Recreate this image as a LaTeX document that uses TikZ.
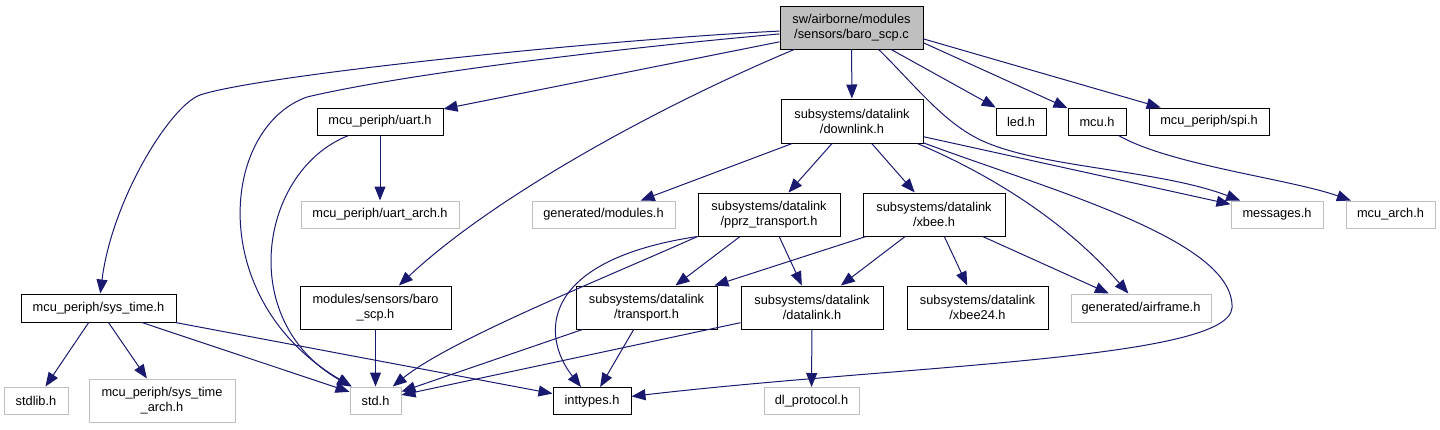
\documentclass[tikz,border=0pt]{standalone}
\usepackage{fontspec}
\setmainfont{Liberation Sans}
\usetikzlibrary{arrows.meta}
\definecolor{edgeblue}{HTML}{191970}
\definecolor{boxgray}{HTML}{BFBFBF}
\begin{document}
\begin{tikzpicture}[x=1pt,y=-1pt,
  box/.style={inner sep=0pt,align=center,font=\fontsize{12.8}{15}\selectfont,line width=1pt},
  doc/.style={box,draw=black},
  ext/.style={box,draw=boxgray},
  inc/.style={draw=edgeblue,line width=1pt,-{Triangle[length=14pt,width=11pt]}}]
\useasboundingbox(0,0)rectangle(1440,429);
% top file
\node[doc,fill=boxgray,minimum width=143pt,minimum height=43pt](root)at(851.5,27.5){sw/airborne/modules\\/sensors/baro\_scp.c};
% first level
\node[doc,minimum width=126pt,minimum height=27pt](uart)at(380,121.5){mcu\_periph/uart.h};
\node[doc,minimum width=142pt,minimum height=44pt](downlink)at(852,121){subsystems/datalink\\/downlink.h};
\node[doc,minimum width=50pt,minimum height=27pt](led)at(1021,121.5){led.h};
\node[doc,minimum width=58pt,minimum height=27pt](mcu)at(1097,121.5){mcu.h};
\node[doc,minimum width=120pt,minimum height=27pt](spi)at(1209,121.5){mcu\_periph/spi.h};
% second level
\node[ext,minimum width=158pt,minimum height=27pt](uartarch)at(380,214.5){mcu\_periph/uart\_arch.h};
\node[ext,minimum width=143pt,minimum height=27pt](genmod)at(603.5,214.5){generated/modules.h};
\node[doc,minimum width=142pt,minimum height=43pt](pprz)at(769,214.5){subsystems/datalink\\/pprz\_transport.h};
\node[doc,minimum width=142pt,minimum height=43pt](xbee)at(934,214.5){subsystems/datalink\\/xbee.h};
\node[ext,minimum width=92pt,minimum height=27pt](messages)at(1277,214.5){messages.h};
\node[ext,minimum width=89pt,minimum height=27pt](mcuarch)at(1390.5,214.5){mcu\_arch.h};
% third level
\node[doc,minimum width=155pt,minimum height=28pt](systime)at(98.5,308){mcu\_periph/sys\_time.h};
\node[doc,minimum width=151pt,minimum height=43pt](baroh)at(375.5,307.5){modules/sensors/baro\\\_scp.h};
\node[doc,minimum width=141pt,minimum height=43pt](transport)at(646.5,307.5){subsystems/datalink\\/transport.h};
\node[doc,minimum width=142pt,minimum height=43pt](datalink)at(812,307.5){subsystems/datalink\\/datalink.h};
\node[doc,minimum width=141pt,minimum height=43pt](xbeetf)at(977.5,307.5){subsystems/datalink\\/xbee24.h};
\node[ext,minimum width=140pt,minimum height=28pt](airframe)at(1141,308){generated/airframe.h};
% bottom level
\node[ext,minimum width=64pt,minimum height=27pt](stdlib)at(36,400.5){stdlib.h};
\node[ext,minimum width=146pt,minimum height=43pt](systimearch)at(162,400.5){mcu\_periph/sys\_time\\\_arch.h};
\node[ext,minimum width=51pt,minimum height=27pt](std)at(375.5,400.5){std.h};
\node[doc,minimum width=78pt,minimum height=27pt](inttypes)at(592,401){inttypes.h};
\node[ext,minimum width=95pt,minimum height=27pt](dlproto)at(811.5,401){dl\_protocol.h};
% includes of baro_scp.c
\draw[inc](root)..controls(600,40)and(260,75)..(200,95)..controls(170,106)and(112,200)..(systime);
\draw[inc](root)..controls(600,50)and(400,75)..(307,97)..controls(220,128)and(205,300)..(std);
\draw[inc](root)--(uart);
\draw[inc](root.201)..controls(650,110)and(490,200)..(baroh);
\draw[inc](root)--(downlink);
\draw[inc](root.-39)..controls(915,85)and(945,125)..(985,142)..controls(1045,168)and(1160,170)..(messages);
\draw[inc](root)--(led);
\draw[inc](root.-12)--(mcu);
\draw[inc](root.-9)--(spi);
% uart.h
\draw[inc](uart)--(uartarch);
\draw[inc](uart.204)..controls(260,170)and(235,320)..(std);
% downlink.h
\draw[inc](downlink)--(genmod);
\draw[inc](downlink)--(pprz);
\draw[inc](downlink)--(xbee);
\draw[inc](downlink)--(messages);
\draw[inc](downlink.-19)..controls(980,170)and(1060,215)..(airframe);
\draw[inc](downlink.-17)..controls(1050,190)and(1235,240)..(1232,308)..controls(1228,360)and(900,365)..(inttypes);
% mcu.h
\draw[inc](mcu.-33)..controls(1170,165)and(1290,179)..(mcuarch);
% pprz_transport.h
\draw[inc](pprz)--(transport);
\draw[inc](pprz)--(datalink);
\draw[inc](pprz.south west)..controls(600,280)and(450,340)..(std);
\draw[inc](pprz.south west)..controls(540,260)and(540,335)..(inttypes);
% xbee.h
\draw[inc](xbee)--(transport);
\draw[inc](xbee)--(datalink);
\draw[inc](xbee)--(xbeetf);
\draw[inc](xbee)--(airframe);
% transport.h, datalink.h
\draw[inc](transport)--(std);
\draw[inc](transport)--(inttypes);
\draw[inc](datalink)--(std);
\draw[inc](datalink)--(dlproto);
% sys_time.h, baro_scp.h
\draw[inc](systime)--(stdlib);
\draw[inc](systime)--(systimearch);
\draw[inc](systime)--(std);
\draw[inc](systime)--(inttypes);
\draw[inc](baroh)--(std);
\end{tikzpicture}
\end{document}
